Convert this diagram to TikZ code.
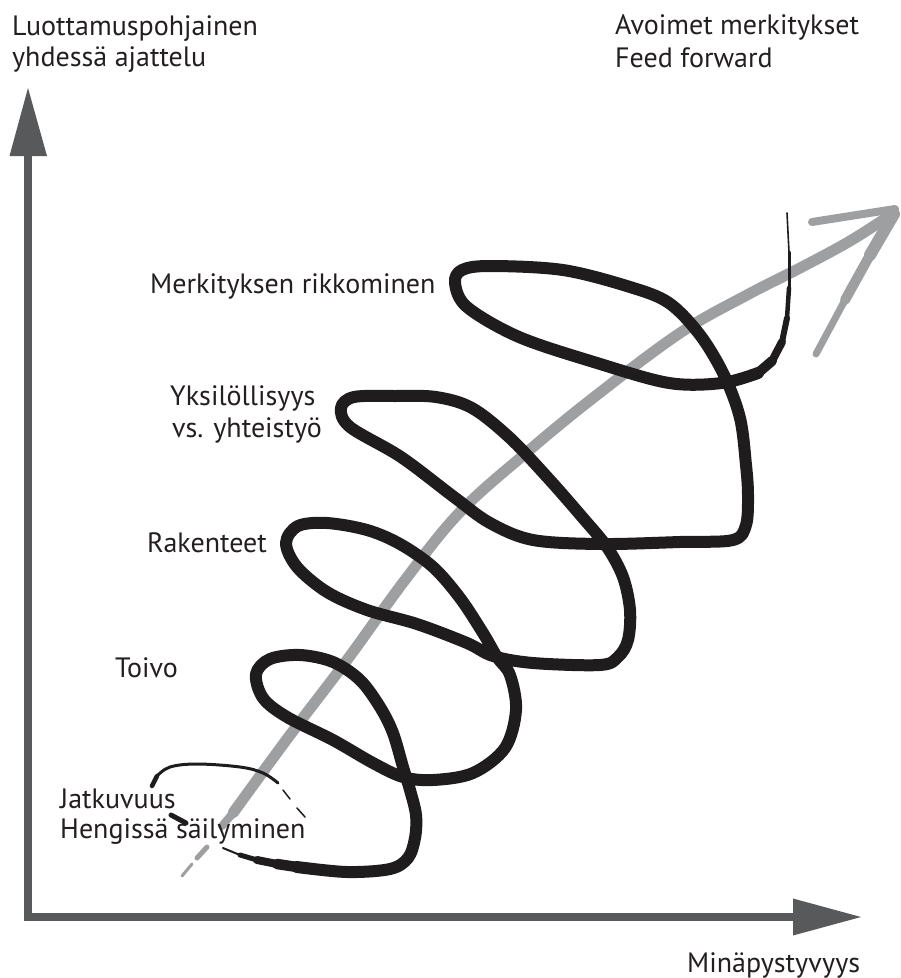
\documentclass[tikz,border=0pt]{standalone}
\usepackage{fontspec}
\setmainfont{PT Sans}
\definecolor{axisgray}{RGB}{88,89,91}
\definecolor{brushgray}{RGB}{158,159,161}
\definecolor{ink}{RGB}{30,28,29}
\definecolor{txt}{RGB}{35,31,32}
\begin{document}
\begin{tikzpicture}[x=1pt,y=-1pt,
  lbl/.style={font=\fontsize{28}{33}\selectfont, text=txt, inner sep=0pt, anchor=base west},
  axisline/.style={draw=axisgray, line width=8pt, miter limit=10},
  brush/.style={draw=brushgray, line width=11pt, line cap=round, line join=round},
  spiral/.style={draw=ink, line width=12pt, line cap=round, line join=round},
  thinink/.style={draw=ink, line cap=round, line join=round}]
\useasboundingbox (0,0) rectangle (901,978);

% axes
\coordinate (origin) at (28,917);
\coordinate (ytop) at (28,150);
\coordinate (xend) at (796,917);
\draw[axisline] (ytop) |- (xend);
\fill[axisgray] (28,88) -- (47,156) -- (9.5,156) -- cycle;
\fill[axisgray] (861,917) -- (793,898.5) -- (793,935.5) -- cycle;

% grey growth arrow (broken where it runs behind the lowest label)
\draw[brush, line width=3pt] (182,876) -- (192,864);
\draw[brush, line width=5pt] (197,858) -- (207,847);
\draw[brush, line width=8pt] (222,826) -- (233,813);
\draw[brush] plot[smooth, tension=0.6] coordinates {(233,813) (290,735) (347,660) (405,580) (460,512) (526,453) (593,398) (680,333) (747,295) (800,268) (850,241) (892,214)};
\draw[brush, line width=8pt] (812,222) -- (895,209);
\draw[brush, line width=12pt] (894,214) -- (870,255);
\draw[brush, line width=10pt] (870,255) -- (845,300);
\draw[brush, line width=7pt] (845,300) -- (816,354);

% thin opening stroke
\draw[thinink, line width=4.5pt] (152,786) -- (157,776);
\draw[thinink, line width=3pt] plot[smooth, tension=0.6] coordinates {(157,776) (170,767) (197,764) (240,767) (263,773) (278,783)};
\draw[thinink, line width=1.5pt] (283,790) -- (290,799);
\draw[thinink, line width=1.5pt] (297,808) -- (305,817);
\draw[thinink, line width=5pt] (171,815) -- (186,823);

% spiral: tapered start
\draw[thinink, line width=2pt] (223,848) -- (240,855);
\draw[thinink, line width=5pt] (240,855) -- (257,860);
\draw[thinink, line width=8pt] (257,860) -- (277,864);
\draw[thinink, line width=10.5pt] (277,864) -- (297,867);

% spiral: main body
\draw[spiral] plot[smooth, tension=0.55] coordinates {
  (297,867) (347,872) (390,869) (408,858) (415,838) (416,815) (410,790)
  (403,767) (393,733) (380,707) (360,680) (333,662) (300,655) (270,659)
  (256,674) (263,698) (287,717) (333,740) (373,763) (403,777) (433,780)
  (473,773) (505,748) (516,710) (510,675) (497,657) (483,633) (460,598)
  (433,567) (400,544) (367,530) (327,523) (298,526) (286,543) (297,567)
  (327,592) (367,610) (417,624) (467,643) (493,656) (533,663) (600,665)
  (618,657) (628,640) (630,610) (623,577) (607,547) (583,518) (548,478)
  (510,438) (472,408) (436,397) (395,396) (354,397) (341,408) (350,427)
  (401,457) (454,497) (490,523) (533,540) (601,544) (680,542) (733,540)
  (746,525) (748,495) (746,465) (740,418) (724,375) (700,335) (669,303)
  (630,287) (563,270) (490,266) (462,270) (455,283) (467,307) (519,337)
  (597,363) (669,383) (722,383) (758,373)};

% spiral: tapered end
\draw[thinink, line width=10pt] (758,373) -- (772,361);
\draw[thinink, line width=8pt] (772,361) -- (782,342);
\draw[thinink, line width=6pt] (782,342) -- (787,318);
\draw[thinink, line width=4.5pt] (787,318) -- (789,288);
\draw[thinink, line width=3pt] (789,288) -- (789,252);
\draw[thinink, line width=1.6pt] (789,252) -- (787,213);

% axis titles
\node[lbl] (ylab1) at (12,35) {Luottamuspohjainen};
\node[lbl] (ylab2) at (12,66) {yhdessä ajattelu};
\node[lbl] (goal1) at (615,34) {Avoimet merkitykset};
\node[lbl] (goal2) at (615,67) {Feed forward};
\node[lbl] (xlab) at (687,972) {Minäpystyvyys};

% stage labels
\node[lbl] (s5) at (150,293) {Merkityksen rikkominen};
\node[lbl] (s4a) at (170,405) {Yksilöllisyys};
\node[lbl] (s4b) at (172,437) {vs. yhteistyö};
\node[lbl] (s3) at (147,552) {Rakenteet};
\node[lbl] (s2) at (115,677) {Toivo};
\node[lbl] (s1a) at (60,808) {Jatkuvuus};
\node[lbl] (s1b) at (60,838) {Hengissä säilyminen};
\end{tikzpicture}
\end{document}
